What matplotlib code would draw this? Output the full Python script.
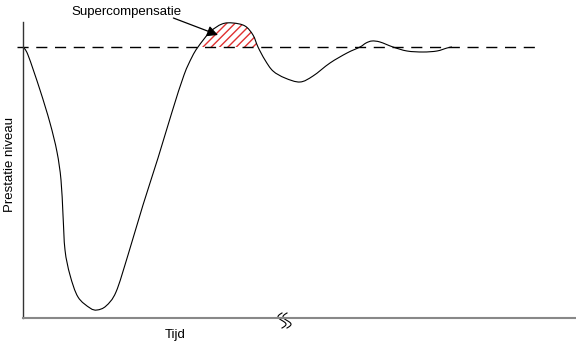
import numpy as np
import matplotlib.pyplot as plt
from matplotlib.path import Path
from matplotlib.patches import PathPatch

# supercompensatie curve (arbitrary units)
tijd = [0, 5, 17, 27, 34, 38, 40, 42, 47, 55, 67, 74, 83, 93, 105, 120, 135, 149,
        161, 169, 175, 187, 199, 210, 222, 230, 235, 242, 250, 262, 277, 290,
        307, 324, 337, 343, 349, 357, 370, 384, 400, 414, 424, 429]
niveau = [271, 263, 228, 195, 166, 138, 103, 68, 43, 21, 10, 8, 12, 26, 63, 113, 160, 206,
          243, 261, 271, 286, 294, 295, 292, 283, 271, 258, 247, 240, 236, 242,
          255, 265, 271, 275, 277, 276, 271, 267, 266, 267, 270, 271]
basis = 271
dash_start, dash_end = -6, 518
break_t = 259
super_start, super_end = 20, 26   # indices where curve crosses the baseline


def smooth_path(pts, i0, i1):
    # smooth bezier through the read points (catmull-rom tangents)
    verts = [pts[i0]]
    codes = [Path.MOVETO]
    for i in range(i0, i1):
        p0 = pts[max(i - 1, 0)]
        p1 = pts[i]
        p2 = pts[i + 1]
        p3 = pts[min(i + 2, len(pts) - 1)]
        verts += [p1 + (p2 - p0) / 6, p2 - (p3 - p1) / 6, p2]
        codes += [Path.CURVE4] * 3
    return verts, codes


plt.rcParams['font.family'] = ['Liberation Sans', 'DejaVu Sans']

fig = plt.figure(figsize=(5.76, 3.51), dpi=100)
ax = fig.add_axes([23 / 576, 33 / 351, 553 / 576, 296 / 351])
ax.set_xlim(0, 553)
ax.set_ylim(0, 296)

pts = np.column_stack([tijd, niveau]).astype(float)

# hatched area above baseline (supercompensatie)
v, c = smooth_path(pts, super_start, super_end)
v += [pts[super_start], pts[super_start]]
c += [Path.LINETO, Path.CLOSEPOLY]
ax.add_patch(PathPatch(Path(v, c), facecolor='none', edgecolor='#e03030',
                       hatch='////', linewidth=0))

v, c = smooth_path(pts, 0, len(pts) - 1)
ax.add_patch(PathPatch(Path(v, c), facecolor='none', edgecolor='black', lw=0.8))

ax.plot([dash_start, dash_end], [basis, basis], color='black', lw=1.0,
        dashes=(8, 5.5), clip_on=False)

for side in ['top', 'right']:
    ax.spines[side].set_visible(False)
ax.spines['left'].set_color('#333333')
ax.spines['left'].set_linewidth(1.0)
ax.spines['bottom'].set_color('#888888')
ax.spines['bottom'].set_linewidth(1.5)
ax.set_xticks([])
ax.set_yticks([])

# break symbol on the time axis
s = np.linspace(0, 1, 60)
for dx in (0, 5):
    ax.plot(break_t + dx - 4 * np.sin(2 * np.pi * s), 5 - 15 * s,
            color='black', lw=0.8, clip_on=False)

ax.annotate('Supercompensatie', xy=(195, 283), xytext=(103, 306),
            textcoords='data', ha='center', va='center', fontsize=9.5,
            annotation_clip=False,
            arrowprops=dict(arrowstyle='-|>', color='black', lw=0.9,
                            mutation_scale=16, shrinkA=0, shrinkB=0,
                            patchA=None, relpos=(0.93, 0.0)))

fig.text(175 / 576, 1 - 335 / 351, 'Tijd', ha='center', va='center', fontsize=9.5)
fig.text(10 / 576, 1 - 165 / 351, 'Prestatie niveau', ha='center', va='center',
         rotation=90, fontsize=9.5)

fig.savefig('out.png', dpi=100)
